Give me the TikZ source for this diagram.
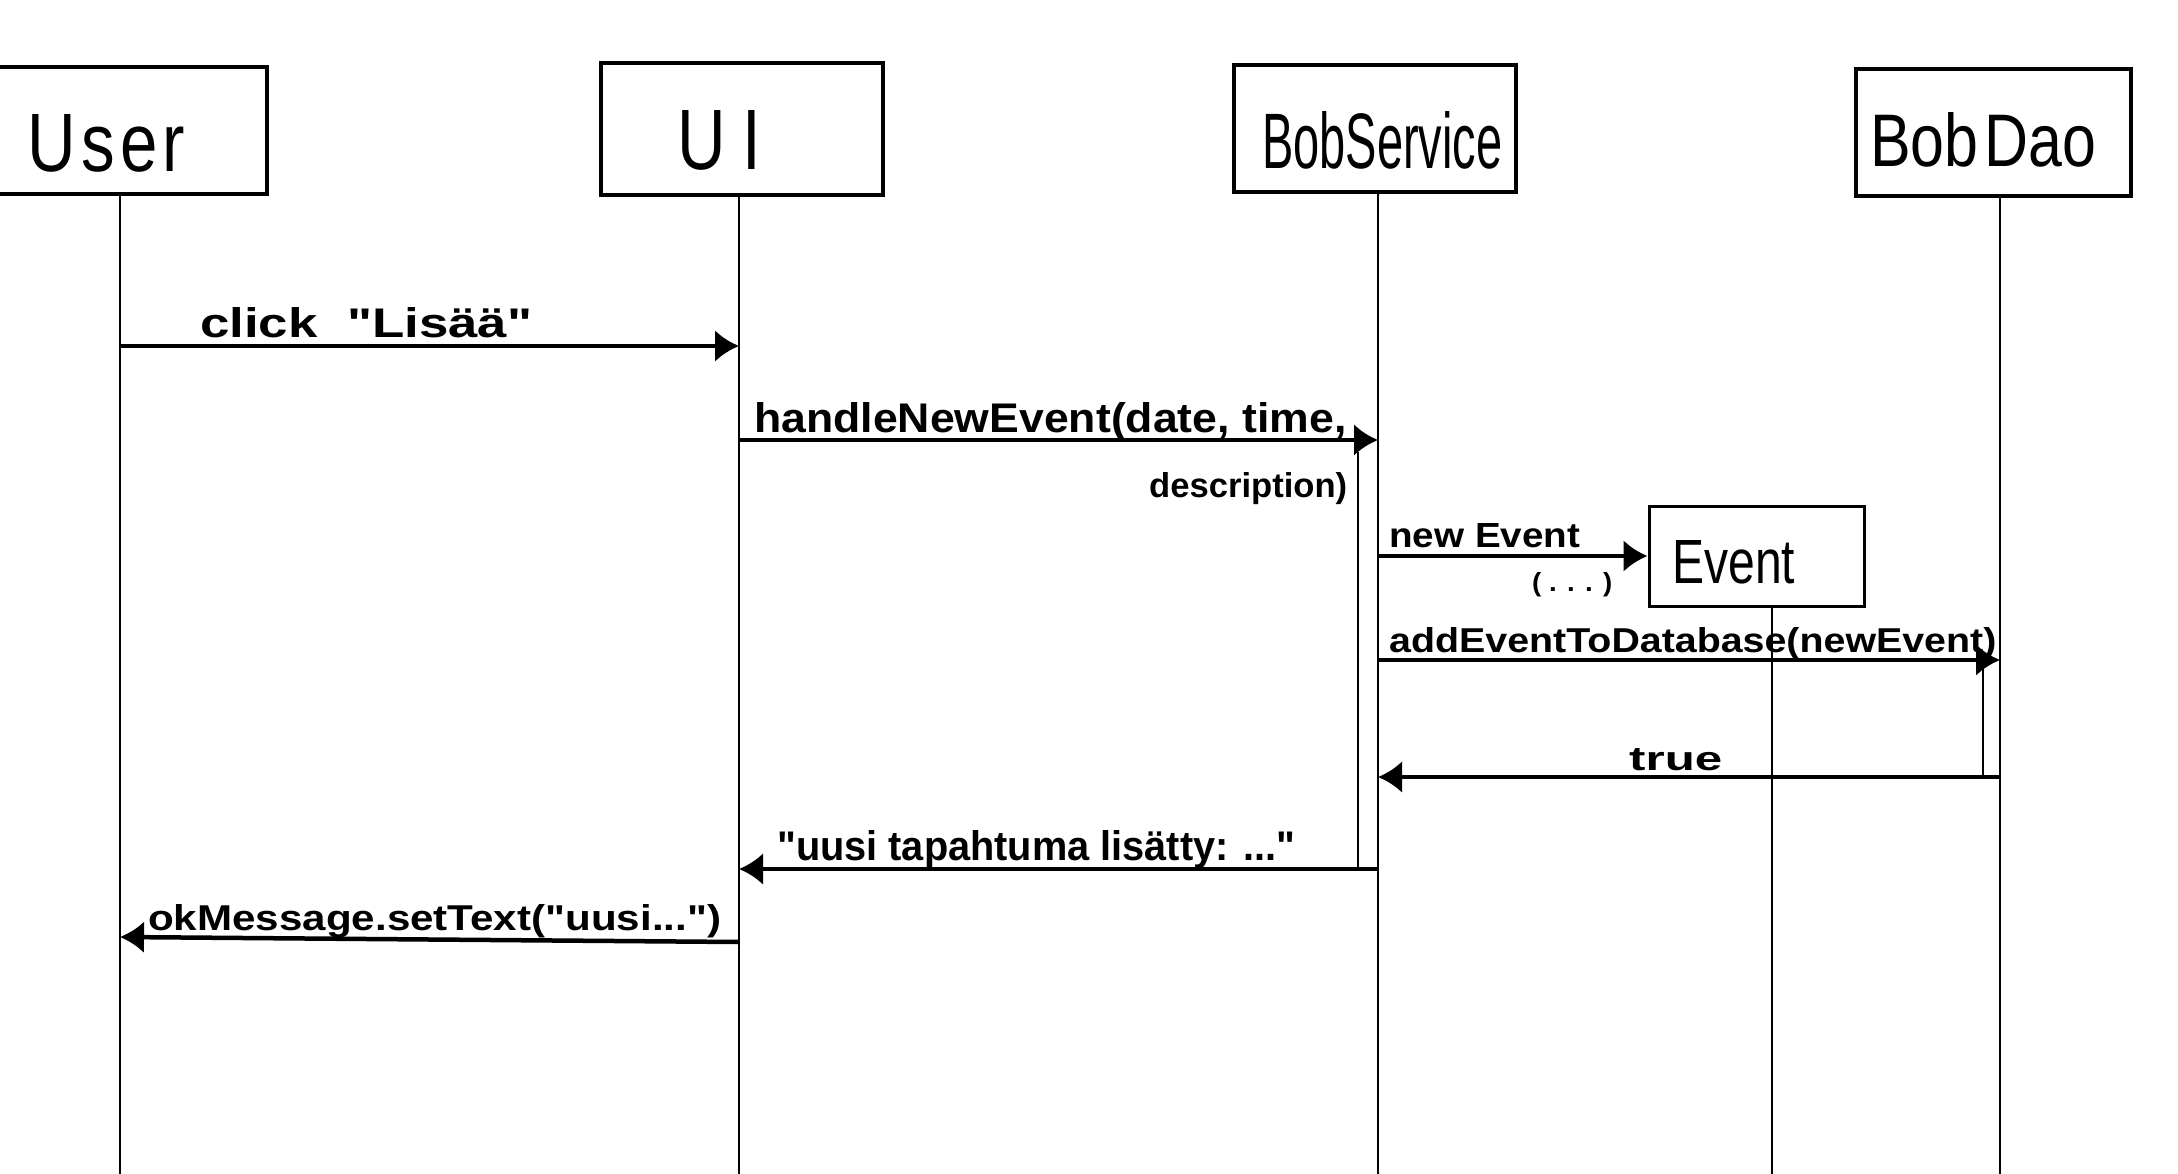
\documentclass[tikz,border=0pt]{standalone}
\usepackage{fontspec}
\setmainfont{Liberation Sans}
\usepackage{graphicx}
\usetikzlibrary{arrows.meta}
\newcommand\fitlbl[3]{\resizebox{#1pt}{#2pt}{#3}}
\newcommand\qq{\textquotedbl}
\begin{document}
\begin{tikzpicture}[x=1pt,y=-1pt,
  actorbox/.style={draw, line width=3.5pt, rectangle, inner sep=0pt},
  title/.style={anchor=base west, inner sep=0pt},
  msglbl/.style={anchor=base west, inner sep=0pt, font=\bfseries},
  life/.style={line width=2pt},
  actbar/.style={line width=2.5pt},
  msg/.style={line width=4.5pt, -{Latex[length=24pt,width=32pt]}}]
\useasboundingbox[fill=white] (0,0) rectangle (2178,1174);

% participant boxes
\node[actorbox, minimum width=294pt, minimum height=127pt] (user) at (120,130.5) {};
\node[actorbox, minimum width=282pt, minimum height=132pt] (ui) at (742,129) {};
\node[actorbox, minimum width=282pt, minimum height=127pt] (service) at (1375,128.5) {};
\node[actorbox, minimum width=275pt, minimum height=127pt] (dao) at (1993.5,132.5) {};

\node[title] (userT) at (27,172) {\fitlbl{158}{57}{U\kern0.08em s\kern0.08em e\kern0.08em r}};
\node[title] (uiT) at (677,170) {\fitlbl{84}{59}{U\kern0.25em I}};
\node[title] (serviceT) at (1262,169) {\fitlbl{240}{57}{BobService}};
\node[title] (daoT) at (1870,167) {\fitlbl{226}{54}{Bob\kern0.1em Dao}};

% lifeline ends
\coordinate (userB) at (120,1174);
\coordinate (uiB) at (739,1174);
\coordinate (serviceB) at (1378,1174);
\coordinate (daoB) at (2000,1174);
\coordinate (eventB) at (1772,1174);

\draw[life] (user.south -| userB) -- (userB);
\draw[life] (ui.south -| uiB) -- (uiB);
\draw[life] (service.south -| serviceB) -- (serviceB);
\draw[life] (dao.south -| daoB) -- (daoB);

% Event object
\node[actorbox, line width=3pt, minimum width=215pt, minimum height=100pt] (event) at (1756.5,556) {};
\node[title] (eventT) at (1672,583) {\fitlbl{123}{43}{Event}};
\draw[life] (event.south -| eventB) -- (eventB);

% activation bars
\draw[actbar] (1358,452) -- (1358,869);
\draw[actbar] (1983,667) -- (1983,777);

% message end points
\coordinate (m1a) at (120,346);  \coordinate (m1b) at (739,346);
\coordinate (m2a) at (739,440);  \coordinate (m2b) at (1378,440);
\coordinate (m3a) at (1378,556);
\coordinate (m4a) at (1378,660); \coordinate (m4b) at (2000,660);
\coordinate (m5a) at (2000,777); \coordinate (m5b) at (1378,777);
\coordinate (m6a) at (1378,869); \coordinate (m6b) at (739,869);
\coordinate (m7a) at (739,942);  \coordinate (m7b) at (120,937);

\draw[msg] (m1a) -- (m1b);
\draw[msg] (m2a) -- (m2b);
\draw[msg] (m3a) -- (event.west);
\draw[msg] (m4a) -- (m4b);
\draw[msg] (m5a) -- (m5b);
\draw[msg] (m6a) -- (m6b);
\draw[msg] (m7a) -- (m7b);

% message labels
\node[msglbl] (l1) at (200,337) {\fitlbl{332}{30}{click~~\qq Lisää\qq}};
\node[msglbl] (l2) at (754,432) {\fitlbl{592}{30}{handleNewEvent(date, time,}};
\node[msglbl] (l2b) at (1149,497) {\fitlbl{198}{25}{description)}};
\node[msglbl] (l3) at (1389,547) {\fitlbl{191}{24}{new Event}};
\node[msglbl] (l3b) at (1532,591) {\fitlbl{80}{19}{( . . . )}};
\node[msglbl] (l4) at (1389,652) {\fitlbl{607}{25}{addEventToDatabase(newEvent)}};
\node[msglbl] (l5) at (1629,770) {\fitlbl{93}{22}{true}};
\node[msglbl] (l6) at (777,860) {\fitlbl{518}{30}{\qq uusi tapahtuma lisätty: ...\qq}};
\node[msglbl] (l7) at (148,930) {\fitlbl{573}{26}{okMessage.setText(\qq uusi...\qq)}};
\end{tikzpicture}
\end{document}
